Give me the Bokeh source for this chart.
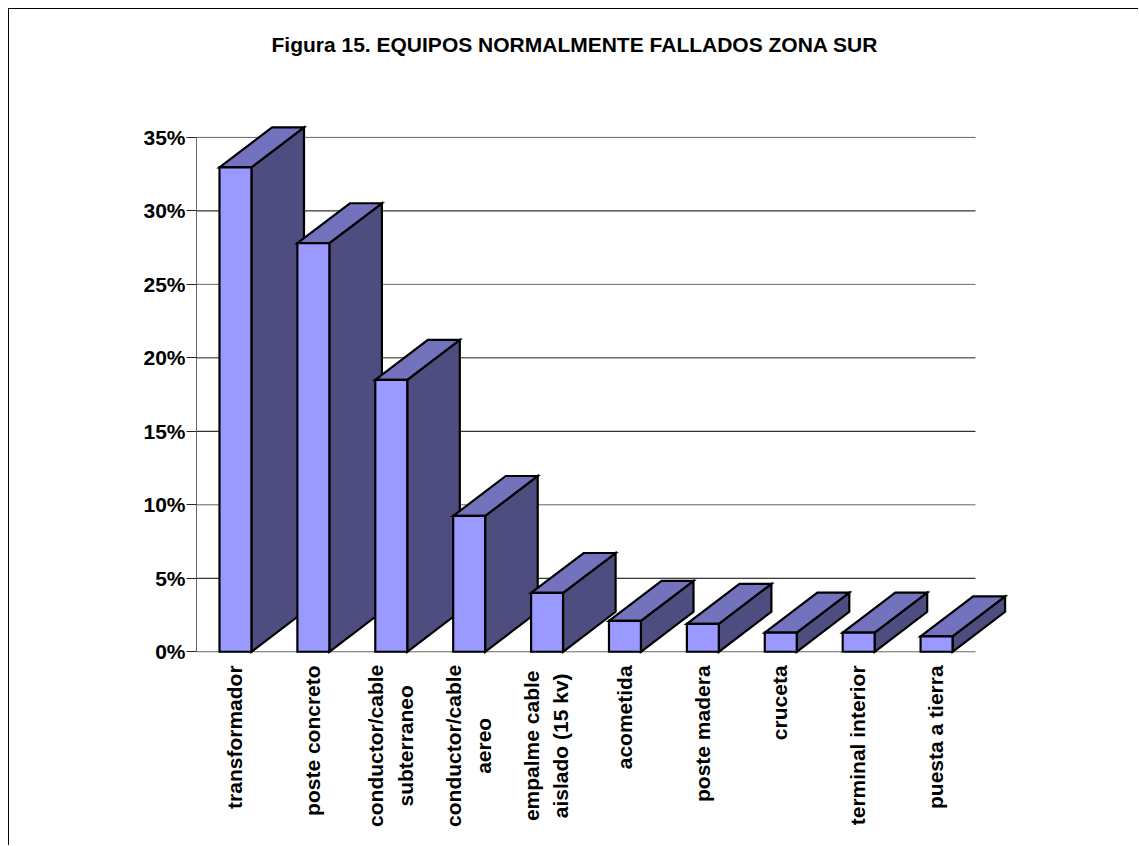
from bokeh.plotting import figure
from bokeh.models import FixedTicker, LinearAxis, Title, Range1d
from bokeh.core.properties import value
from bokeh.embed import file_html
from bokeh.resources import INLINE
import math

title_text = "Figura 15. EQUIPOS NORMALMENTE FALLADOS ZONA SUR"
categories = ["transformador", "poste concreto", "conductor/cable\nsubterraneo",
              "conductor/cable\naereo", "empalme cable\naislado (15 kv)", "acometida",
              "poste madera", "cruceta", "terminal interior", "puesta a tierra"]
values = [32.96, 27.8, 18.5, 9.24, 4.0, 2.1, 1.9, 1.3, 1.3, 1.05]
y_ticks = [0, 5, 10, 15, 20, 25, 30, 35]
grid_colors = ["#666666", "#000000", "#666666", "#000000", "#222222", "#666666", "#000000", "#666666"]

FONT = "Liberation Sans"
FRONT, TOP, SIDE = "#9999FF", "#7373BD", "#4D4D80"
bar_half = 0.205      # half front width, in category units
depth_x = 0.675       # oblique depth, in category units
depth_y = 2.72        # oblique depth, in percentage points

W, H = 1130, 837
FL, FR, FT, BASE = 187, 1003, 66, 642   # frame edges and zero line, figure pixels
px_x = 77.9
px_y = 515 / 35

p = figure(width=W, height=H, output_backend="svg", toolbar_location=None,
           x_axis_type=None, y_axis_type=None,
           min_border_left=FL, min_border_right=W - FR,
           min_border_top=FT, min_border_bottom=0,
           x_range=Range1d(0, (FR - FL) / px_x),
           y_range=Range1d(-(H - BASE) / px_y, (BASE - FT) / px_y),
           outline_line_color=None,
           styles={"margin-left": "8px", "margin-top": "8px",
                   "border-left": "1px solid #000", "border-top": "1px solid #000"})

yaxis = LinearAxis(ticker=FixedTicker(ticks=y_ticks), bounds=(0, 35),
                   major_label_overrides={t: f"{t}%" for t in y_ticks},
                   major_tick_out=10, major_tick_in=0, minor_tick_line_color=None,
                   axis_line_color="#666666", major_tick_line_color="#222222",
                   major_label_text_font=FONT, major_label_text_font_style="bold",
                   major_label_text_font_size="21px", major_label_text_color="#000000",
                   major_label_standoff=1)
p.add_layout(yaxis, "left")

centers = [i + 0.5 for i in range(len(categories))]

p.segment(x0=[0] * len(y_ticks), x1=[10] * len(y_ticks), y0=y_ticks, y1=y_ticks,
          line_color=grid_colors, line_width=1)

xs, ys, colors = [], [], []
for c, v in zip(centers, values):
    l, r = c - bar_half, c + bar_half
    xs += [[r, r + depth_x, r + depth_x, r],
           [l, l + depth_x, r + depth_x, r],
           [l, r, r, l]]
    ys += [[0, depth_y, v + depth_y, v],
           [v, v + depth_y, v + depth_y, v],
           [0, 0, v, v]]
    colors += [SIDE, TOP, FRONT]

p.patches(xs, ys, fill_color=colors, line_color="#000000", line_width=2.2, line_join="miter")

label_gap = -0.93       # top of label text, in percentage points below zero
first_line_span = 161 / px_y
for c, name in zip(centers, categories):
    two_lines = "\n" in name
    p.text(x=[c - 0.01], y=[label_gap - first_line_span / 2 if two_lines else label_gap],
           text=[name], angle=math.pi / 2,
           text_align="center" if two_lines else "right", text_baseline="middle",
           text_font=value(FONT), text_font_style="bold", text_font_size="21px",
           text_color="#000000", text_line_height=1.28)

p.add_layout(Title(text=title_text, text_font=FONT, text_font_style="bold",
                   text_font_size="21px", text_color="#000000", align="left",
                   offset=75, standoff=42), "above")

open("out.html", "w").write(file_html(p, INLINE))
